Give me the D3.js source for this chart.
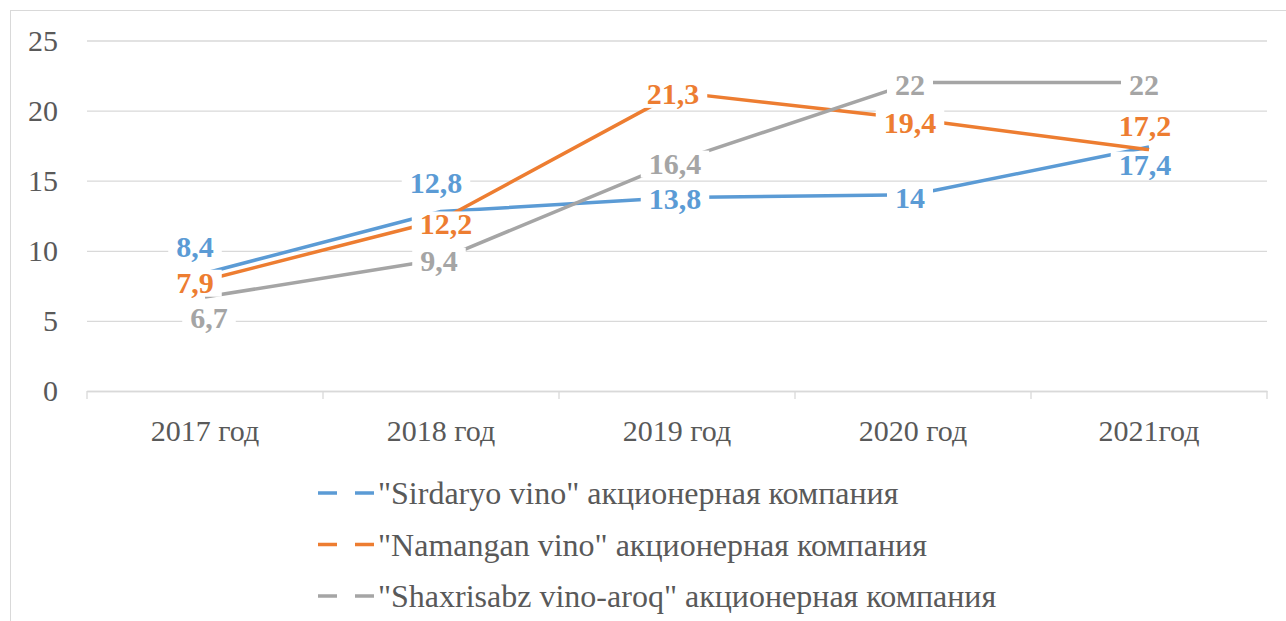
<!DOCTYPE html>
<html>
<head>
<meta charset="utf-8">
<script src="https://cdn.jsdelivr.net/npm/d3@7"></script>
<style>
  body { margin: 0; background: #fff; }
</style>
</head>
<body>
<svg width="1286" height="621"></svg>
<script>
// chart data
var years = ["2017 год", "2018 год", "2019 год", "2020 год", "2021год"];
var seriesNames = [
  "\"Sirdaryo vino\" акционерная компания",
  "\"Namangan vino\" акционерная компания",
  "\"Shaxrisabz vino-aroq\" акционерная компания"
];
var sirdaryo = [8.4, 12.8, 13.8, 14, 17.4];
var namangan = [7.9, 12.2, 21.3, 19.4, 17.2];
var shaxrisabz = [6.7, 9.4, 16.4, 22, 22];
var yTicks = [0, 5, 10, 15, 20, 25];

var colors = ["#5b9bd5", "#ed7d31", "#a5a5a5"];
var serif = "Liberation Serif";
// label offsets (px) relative to each point, per series
var labelOffsets = [
  [[-10, -27], [-5, -29], [-2, 1], [-3, 3], [-4, 17]],
  [[-10, 2], [5, 4], [-4, 1], [-3, 3], [-4, -24]],
  [[4, 20], [-2, 1], [-2, 2], [-3, 2], [-5, 2]]
];

var series = [sirdaryo, namangan, shaxrisabz].map(function(vals, i) {
  return {name: seriesNames[i], color: colors[i], values: vals, offsets: labelOffsets[i]};
});

var svg = d3.select("svg").attr("font-family", serif);

// outer frame
svg.append("rect")
  .attr("x", 10.5).attr("y", 10.5)
  .attr("width", 1290).attr("height", 640)
  .attr("fill", "none")
  .attr("stroke", "#d9d9d9");

var x = d3.scaleBand().domain(years).range([87, 1267]);
var y = d3.scaleLinear().domain([0, 25]).range([391, 40.5]);
var cx = function(i) { return x(years[i]) + x.bandwidth() / 2; };

// gridlines + y labels
var yAxis = svg.append("g")
  .attr("transform", "translate(87,0)")
  .call(d3.axisLeft(y).tickValues(yTicks).tickSize(-1180).tickPadding(29));
yAxis.attr("font-family", serif).attr("font-size", 30);
yAxis.select(".domain").remove();
yAxis.selectAll("line").attr("stroke", "#d9d9d9").attr("stroke-width", 1.3);
yAxis.selectAll("text").attr("fill", "#595959");

// x axis
var xAxis = svg.append("g")
  .attr("transform", "translate(0,391)")
  .call(d3.axisBottom(x).tickSize(0).tickPadding(29));
xAxis.attr("font-family", serif).attr("font-size", 30);
xAxis.select(".domain").attr("stroke", "#d9d9d9").attr("stroke-width", 1.3);
xAxis.selectAll("text").attr("fill", "#595959");

var bounds = years.map(function(d) { return x(d); }).concat([x.range()[1]]);
svg.append("g").selectAll("line")
  .data(bounds)
  .enter().append("line")
  .attr("x1", function(d) { return d; })
  .attr("x2", function(d) { return d; })
  .attr("y1", 391).attr("y2", 399)
  .attr("stroke", "#d9d9d9").attr("stroke-width", 1.3);

// lines
var line = d3.line()
  .x(function(d, i) { return cx(i); })
  .y(function(d) { return y(d); });

svg.append("g").selectAll("path")
  .data(series)
  .enter().append("path")
  .attr("d", function(d) { return line(d.values); })
  .attr("fill", "none")
  .attr("stroke", function(d) { return d.color; })
  .attr("stroke-width", 3.5)
  .attr("stroke-linejoin", "round");

// data labels with white boxes
var labelG = svg.append("g");
series.forEach(function(s) {
  s.values.forEach(function(v, i) {
    var px = cx(i) + s.offsets[i][0];
    var py = y(v) + s.offsets[i][1];
    var g = labelG.append("g").attr("transform", "translate(" + px + "," + py + ")");
    var t = g.append("text")
      .attr("text-anchor", "middle")
      .attr("dy", "0.35em")
      .attr("fill", s.color)
      .attr("font-family", serif)
      .attr("font-size", 30)
      .attr("font-weight", "bold")
      .text(String(v).replace(".", ","));
    var bb = t.node().getBBox();
    g.insert("rect", "text")
      .attr("x", bb.x - 8).attr("y", bb.y + 4)
      .attr("width", bb.width + 16).attr("height", bb.height - 6)
      .attr("fill", "#fff");
  });
});

// legend
var legend = svg.append("g").selectAll("g")
  .data(series)
  .enter().append("g")
  .attr("transform", function(d, i) { return "translate(318," + (493 + i * 51.5) + ")"; });

legend.append("line")
  .attr("x1", 0).attr("x2", 57)
  .attr("y1", 0).attr("y2", 0)
  .attr("stroke", function(d) { return d.color; })
  .attr("stroke-width", 3.5)
  .attr("stroke-dasharray", "19,18");

legend.append("text")
  .attr("x", 60)
  .attr("dy", "0.35em")
  .attr("fill", "#595959")
  .attr("font-family", serif)
  .attr("font-size", 32)
  .text(function(d) { return d.name; });
</script>
</body>
</html>
